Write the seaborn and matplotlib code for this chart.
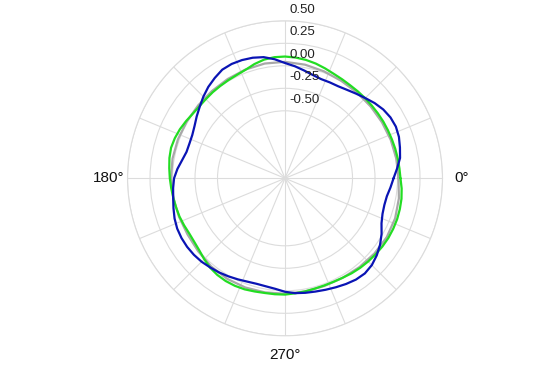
import numpy as np
import pandas as pd
import matplotlib
matplotlib.use("Agg")
import matplotlib.pyplot as plt
import seaborn as sns
from matplotlib.transforms import offset_copy

# readings taken every 5 degrees
angles_deg = list(range(0, 360, 5))
blue_r = [-0.044, 0.000, 0.048, 0.072, 0.097, 0.109, 0.103, 0.083, 0.050,
          0.011, -0.022, -0.050, -0.069, -0.074, -0.077, -0.061, -0.033, 0.000,
          0.031, 0.078, 0.117, 0.137, 0.148, 0.152, 0.144, 0.111, 0.076,
          0.033, -0.013, -0.052, -0.089, -0.113, -0.120, -0.117, -0.089, -0.050,
          -0.017, -0.002, 0.012, 0.033, 0.056, 0.072, 0.078, 0.078, 0.072,
          0.061, 0.043, 0.027, 0.008, -0.011, -0.028, -0.036, -0.031, -0.017,
          0.011, 0.031, 0.042, 0.053, 0.068, 0.086, 0.106, 0.124, 0.130,
          0.114, 0.081, 0.039, -0.011, -0.067, -0.097, -0.107, -0.101, -0.074]
green_r = [0.033, 0.026, 0.022, 0.018, 0.014, 0.012, 0.011, 0.009, 0.008,
           0.009, 0.010, 0.012, 0.020, 0.031, 0.050, 0.070, 0.086, 0.097,
           0.103, 0.101, 0.089, 0.064, 0.033, 0.017, 0.009, 0.003, -0.001,
           -0.006, -0.007, 0.001, 0.020, 0.039, 0.053, 0.061, 0.054, 0.041,
           0.030, 0.019, 0.010, 0.003, -0.003, -0.013, -0.022, -0.019, -0.006,
           0.020, 0.046, 0.061, 0.068, 0.068, 0.063, 0.052, 0.044, 0.043,
           0.042, 0.033, 0.026, 0.020, 0.018, 0.020, 0.027, 0.039, 0.049,
           0.057, 0.064, 0.071, 0.076, 0.077, 0.076, 0.071, 0.064, 0.051]

# gray reference, every 10 degrees
gray_angles = list(range(0, 360, 10))
gray_r = [0.011, 0.006, 0.000, -0.006, -0.008, -0.006, 0.000, 0.015, 0.032,
          0.044, 0.045, 0.036, 0.024, 0.015, 0.010, 0.011, 0.016, 0.019,
          0.017, 0.010, 0.003, 0.000, 0.010, 0.028, 0.039, 0.041, 0.037,
          0.033, 0.027, 0.024, 0.028, 0.037, 0.048, 0.056, 0.052, 0.035]

r_ticks = [-0.5, -0.25, 0.0, 0.25, 0.5]
r_labels = ["-0.50", "-0.25", "0.00", "0.25", "0.50"]
theta_labels = {0: "0°", 180: "180°", 270: "270°"}

sns.set_style("white")
plt.rcParams["font.family"] = ["Liberation Sans", "DejaVu Sans"]


def closed(angles, values):
    th = np.deg2rad(np.append(angles, 360))
    return pd.DataFrame({"theta": th, "r": np.append(values, values[0])})


fig = plt.figure(figsize=(5.47, 3.65), dpi=100)
ax = fig.add_axes([0.2331, 0.08, 0.5759, 0.863], projection="polar")

sns.lineplot(data=closed(gray_angles, gray_r), x="theta", y="r", ax=ax,
             color="#a8a8a8", linewidth=1.6, sort=False, estimator=None)
sns.lineplot(data=closed(angles_deg, green_r), x="theta", y="r", ax=ax,
             color="#22dd22", linewidth=1.6, sort=False, estimator=None)
sns.lineplot(data=closed(angles_deg, blue_r), x="theta", y="r", ax=ax,
             color="#0a14b4", linewidth=1.6, sort=False, estimator=None)

ax.set_ylim(-1.25, 0.5)
ax.set_yticks(r_ticks)
ax.set_yticklabels([])
grid_deg = np.arange(0, 360, 22.5)
ax.set_thetagrids(grid_deg, labels=[theta_labels.get(int(d), "") if d == int(d) else ""
                                    for d in grid_deg])
ax.tick_params(axis="x", labelsize=11, pad=3, colors="#111111")
ax.grid(True, color="#dcdcdc", linewidth=0.8)
ax.spines["polar"].set_color("#dcdcdc")
ax.spines["polar"].set_linewidth(0.8)
ax.set_xlabel("")
ax.set_ylabel("")

lab_tr = offset_copy(ax.transData, fig=fig, x=4, y=5, units="dots")
for rv, lab in zip(r_ticks, r_labels):
    ax.text(np.pi / 2, rv, lab, transform=lab_tr, ha="left", va="bottom",
            fontsize=9.5, color="#222222")

fig.savefig("out.png", dpi=100)
